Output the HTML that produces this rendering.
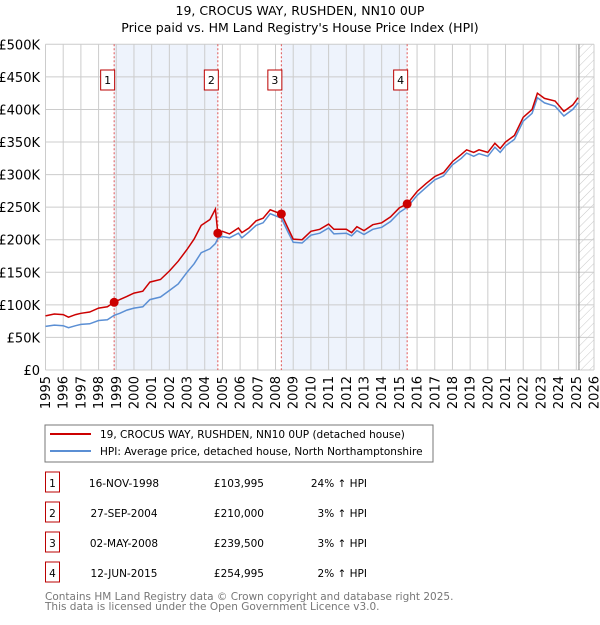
<!DOCTYPE html>
<html><head><meta charset="utf-8"><style>
body{margin:0;background:#fff;font-family:"Liberation Sans","DejaVu Sans",sans-serif;}
svg text{font-family:"DejaVu Sans","Liberation Sans",sans-serif;}
</style></head><body>
<svg id="c" width="600" height="620" viewBox="0 0 600 620" xmlns="http://www.w3.org/2000/svg">
<defs><pattern id="hatch" width="6" height="6" patternUnits="userSpaceOnUse" patternTransform="rotate(45)"><line x1="0" y1="0" x2="0" y2="6" stroke="#bbb" stroke-width="0.8"/></pattern></defs>
<text x="300" y="15" text-anchor="middle" font-size="12.5">19, CROCUS WAY, RUSHDEN, NN10 0UP</text>
<text x="300" y="32" text-anchor="middle" font-size="12.5">Price paid vs. HM Land Registry's House Price Index (HPI)</text>
<g id="plot"></g>
<rect x="45" y="425" width="388" height="37" fill="#fff" stroke="#777"/>
<line x1="50" y1="434" x2="91" y2="434" stroke="#cc0000" stroke-width="2"/>
<text x="100" y="438" font-size="10.5">19, CROCUS WAY, RUSHDEN, NN10 0UP (detached house)</text>
<line x1="50" y1="451" x2="91" y2="451" stroke="#5b8fd4" stroke-width="2"/>
<text x="100" y="455" font-size="10.5">HPI: Average price, detached house, North Northamptonshire</text>
<g id="tbl" font-size="10.5"></g>
<text x="45" y="600" font-size="10.5" fill="#777">Contains HM Land Registry data © Crown copyright and database right 2025.</text>
<text x="45" y="610" font-size="10.5" fill="#777">This data is licensed under the Open Government Licence v3.0.</text>
</svg>
<script>
const dates=[1995.0,1995.5,1996.0,1996.3,1996.7,1997.0,1997.5,1998.0,1998.5,1998.88,1999.2,1999.6,2000.0,2000.5,2000.9,2001.5,2002.0,2002.5,2003.0,2003.4,2003.8,2004.3,2004.6,2004.74,2005.0,2005.4,2005.9,2006.1,2006.5,2006.9,2007.3,2007.7,2008.33,2008.7,2009.0,2009.5,2010.0,2010.5,2011.0,2011.3,2012.0,2012.3,2012.6,2013.0,2013.5,2014.0,2014.5,2015.0,2015.44,2016.0,2016.5,2017.0,2017.5,2018.0,2018.5,2018.8,2019.2,2019.5,2020.0,2020.4,2020.7,2021.0,2021.5,2022.0,2022.5,2022.8,2023.2,2023.8,2024.3,2024.8,2025.1];
const hpi=[67,69,68,65,68,70,71,76,77,84,87,92,95,97,108,112,122,132,150,163,180,186,194,202,205,203,210,203,212,222,226,240,233,212,196,195,207,210,218,209,210,206,214,208,216,219,228,242,250,268,280,292,298,315,325,333,328,332,328,342,334,344,354,382,394,418,410,405,390,400,410];
const price=[83,86,85,81,85,87,89,95,97,104,108,113,118,121,135,139,152,167,185,201,222,231,247,210,213,209,218,211,218,229,233,246,239.5,218,201,200,213,216,224,216,216,211,220,214,223,226,235,249,255,274,286,297,303,320,331,338,334,338,334,348,340,350,360,388,400,425,417,413,397,407,418];
const saleLabels=["1","2","3","4"];
const saleDates=[1998.88,2004.74,2008.33,2015.44];
const salePrices=[103.995,210,239.5,254.995];
const saleDateText=["16-NOV-1998","27-SEP-2004","02-MAY-2008","12-JUN-2015"];
const salePriceText=["£103,995","£210,000","£239,500","£254,995"];
const salePctText=["24% ↑ HPI","3% ↑ HPI","3% ↑ HPI","2% ↑ HPI"];
const yTicks=[0,50,100,150,200,250,300,350,400,450,500];
const yTickLabels=["£0","£50K","£100K","£150K","£200K","£250K","£300K","£350K","£400K","£450K","£500K"];
const xTicks=[1995,1996,1997,1998,1999,2000,2001,2002,2003,2004,2005,2006,2007,2008,2009,2010,2011,2012,2013,2014,2015,2016,2017,2018,2019,2020,2021,2022,2023,2024,2025,2026];
const NS="http://www.w3.org/2000/svg";
const X0=45.5,X1=594,Y0=370,Y1=44.3;
const sx=v=>X0+(v-1995)/(2026-1995)*(X1-X0);
const sy=v=>Y0-v/500*(Y0-Y1);
const plot=document.getElementById('plot');
function mk(tag,attrs,parent){const e=document.createElementNS(NS,tag);for(const k in attrs)e.setAttribute(k,attrs[k]);(parent||plot).appendChild(e);return e;}
// shading
for(let i=0;i<saleDates.length;i+=2){
 const r=mk('rect',{x:sx(saleDates[i]),y:Y1,width:sx(saleDates[i+1])-sx(saleDates[i]),height:Y0-Y1,fill:'#eef3fc'});
 
 
}
// hatch future
const hz=mk('rect',{x:sx(2025.15),y:Y1,width:X1-sx(2025.15),height:Y0-Y1,fill:'url(#hatch)'});


// grid
yTicks.forEach((t,i)=>{
 const l=mk('line',{x1:X0,x2:X1,y1:sy(t),y2:sy(t),stroke:'#ccc','stroke-width':1});
 
 
 const tx=mk('text',{x:40,y:sy(t)+5,'text-anchor':'end','font-size':13});
 tx.textContent=yTickLabels[i];
 
 
});
xTicks.forEach(t=>{
 const l=mk('line',{x1:sx(t),x2:sx(t),y1:Y1,y2:Y0,stroke:'#ccc','stroke-width':1});
 
 
 const tx=mk('text',{x:0,y:0,'text-anchor':'end','font-size':13,transform:`translate(${sx(t)+4.5},${Y0+6}) rotate(-90)`});
 tx.textContent=t;
 
 
});
const nl=mk('line',{x1:sx(2025.15),x2:sx(2025.15),y1:Y1,y2:Y0,stroke:'#888','stroke-width':1});


// sale vlines + boxes
saleDates.forEach((d,i)=>{
 const l=mk('line',{x1:sx(d),x2:sx(d),y1:Y1,y2:Y0,stroke:'#e05555','stroke-width':1,'stroke-dasharray':'2,2'});
 
 
 const b=mk('rect',{x:sx(d)-13.5,y:70,width:14,height:20,fill:'#fff',stroke:'#b00','stroke-width':1});
 
 
 const t=mk('text',{x:sx(d)-6.5,y:84,'text-anchor':'middle','font-size':11});
 t.textContent=saleLabels[i];
 
 
});
// lines
const pts=a=>a.map((v,i)=>sx(dates[i]).toFixed(1)+','+sy(v).toFixed(1)).join(' ');
const hl=mk('polyline',{points:pts(hpi),fill:'none',stroke:'#5b8fd4','stroke-width':1.5});


const pl=mk('polyline',{points:pts(price),fill:'none',stroke:'#cc0000','stroke-width':1.5});


saleDates.forEach((d,i)=>{
 const c=mk('circle',{cx:sx(d),cy:sy(salePrices[i]),r:4.5,fill:'#cc0000'});
 
 
});
// table
const tbl=document.getElementById('tbl');
saleLabels.forEach((s,i)=>{
 const y=483+i*30;
 const b=mk('rect',{x:45.5,y:y-11,width:14,height:20,fill:'#fff',stroke:'#b00'},tbl);
 
 
 const cells=[[52.5,s,'middle'],[124,saleDateText[i],'middle'],[264,salePriceText[i],'end'],[367,salePctText[i],'end']];
 cells.forEach(c=>{
  const t=mk('text',{x:c[0],y:y+4,'text-anchor':c[2]},tbl);
  t.textContent=c[1];
  
  
 });
});
</script>
</body></html>
